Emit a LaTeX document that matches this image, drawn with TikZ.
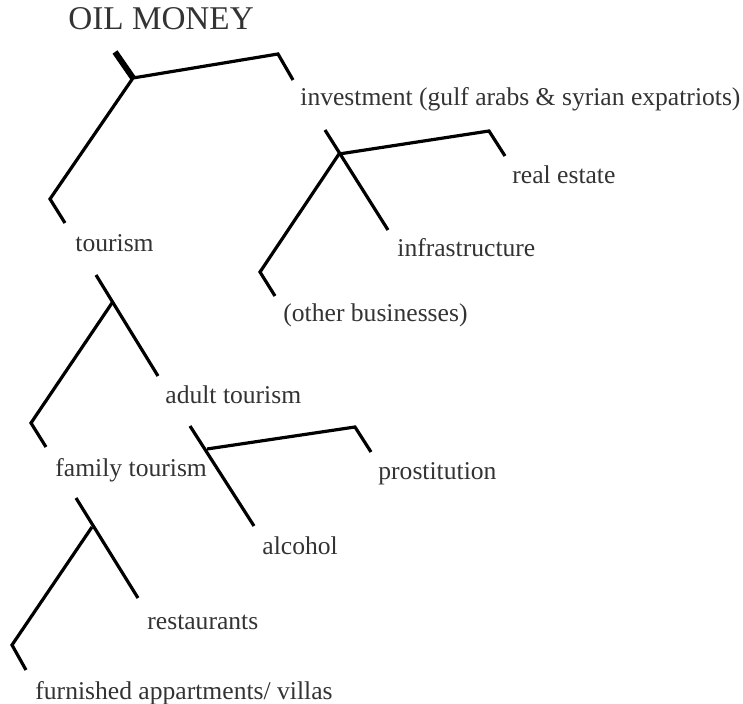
\documentclass[tikz,border=0pt]{standalone}
\usepackage{fontspec}
\setmainfont{Liberation Serif}

\begin{document}
\begin{tikzpicture}[x=0.5pt, y=-0.5pt,
    branch/.style={line width=1.6pt, line join=miter},
    word/.style={anchor=base west, inner sep=0pt, text=black!80,
        font=\fontsize{12.8}{15}\selectfont},
    title/.style={word, font=\fontsize{16.6}{20}\selectfont}]
    \useasboundingbox (0,0) rectangle (743,704);

    % Labels
    \node[title] (oil) at (68,30) {OIL MONEY};
    \node[word] (invest) at (300,106) {investment (gulf arabs \& syrian expatriots)};
    \node[word] (realest) at (512,184) {real estate};
    \node[word] (infra) at (397,257) {infrastructure};
    \node[word] (other) at (283,322) {(other businesses)};
    \node[word] (tourism) at (75,252) {tourism};
    \node[word] (adult) at (165,404) {adult tourism};
    \node[word] (family) at (55,477) {family tourism};
    \node[word] (prost) at (378,480) {prostitution};
    \node[word] (alcohol) at (262,554) {alcohol};
    \node[word] (restaur) at (147,629) {restaurants};
    \node[word] (furnish) at (35,699) {furnished appartments/ villas};

    % Oil money fork (thick stub)
    \coordinate (h0) at (133,78);
    \coordinate (s0) at (115,52);
    \coordinate (r0) at (278,54);
    \coordinate (r0e) at (293,80);
    \coordinate (l0) at (50,199);
    \coordinate (l0e) at (65,223);
    \draw[line width=3pt] (s0) -- (h0);
    \draw[branch] (l0e) -- (l0) -- (h0) -- (r0) -- (r0e);

    % Investment fork
    \coordinate (h1) at (339,154);
    \coordinate (s1) at (325,130);
    \coordinate (e1) at (388,230);
    \coordinate (r1) at (489,131);
    \coordinate (r1e) at (505,156);
    \coordinate (l1) at (260,272);
    \coordinate (l1e) at (275,296);
    \draw[branch] (s1) -- (e1);
    \draw[branch] (l1e) -- (l1) -- (h1) -- (r1) -- (r1e);

    % Tourism fork
    \coordinate (h2) at (112,303);
    \coordinate (s2) at (96,275);
    \coordinate (e2) at (158,376);
    \coordinate (l2) at (31,423);
    \coordinate (l2e) at (46,447);
    \draw[branch] (s2) -- (e2);
    \draw[branch] (l2e) -- (l2) -- (h2);

    % Adult tourism fork
    \coordinate (h3) at (207,449);
    \coordinate (s3) at (190,426);
    \coordinate (e3) at (254,526);
    \coordinate (r3) at (355,427);
    \coordinate (r3e) at (371,452);
    \draw[branch] (s3) -- (e3);
    \draw[branch] (h3) -- (r3) -- (r3e);

    % Family tourism fork
    \coordinate (h4) at (92,527);
    \coordinate (s4) at (76,498);
    \coordinate (e4) at (138,598);
    \coordinate (l4) at (12,645);
    \coordinate (l4e) at (26,670);
    \draw[branch] (s4) -- (e4);
    \draw[branch] (l4e) -- (l4) -- (h4);
\end{tikzpicture}
\end{document}
